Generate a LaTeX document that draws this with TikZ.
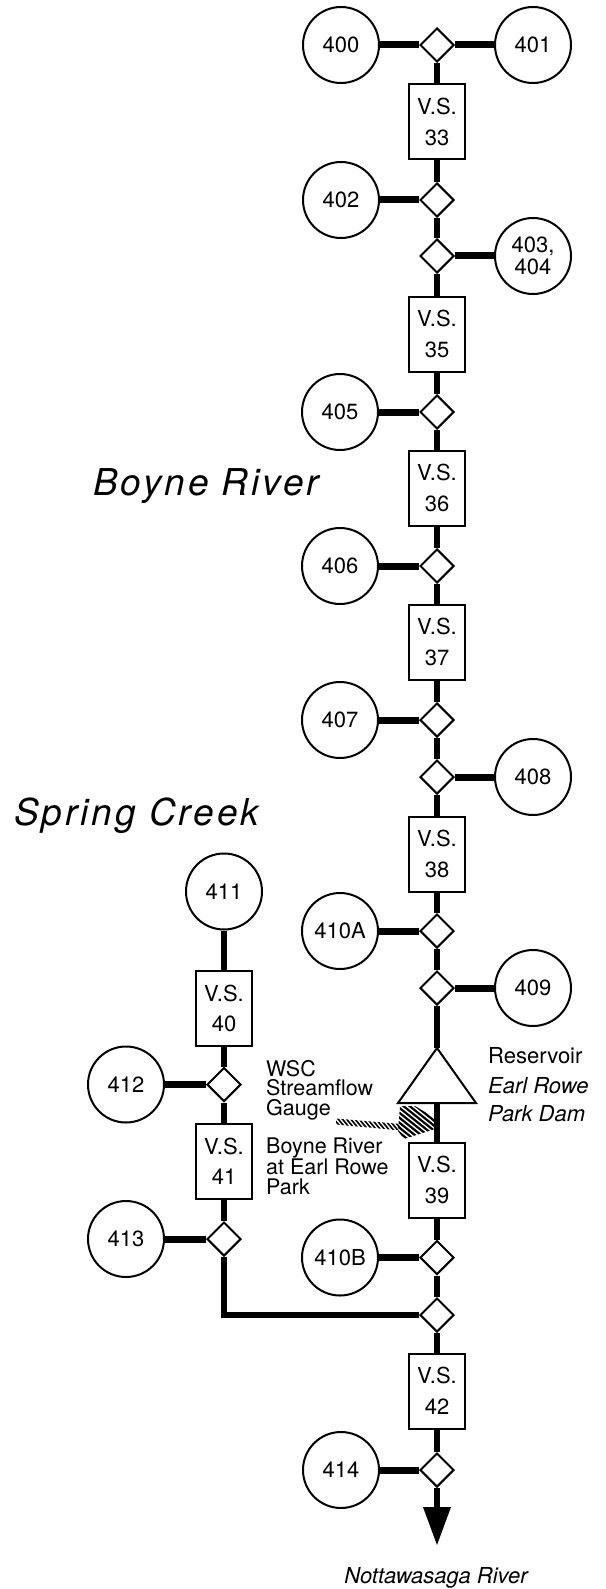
\documentclass[tikz,border=0pt]{standalone}
\usepackage{fontspec}
\setmainfont{TeX Gyre Heros}
\newfontfamily\titlefont[LetterSpace=8]{TeX Gyre Heros}
\usetikzlibrary{shapes.geometric}
\begin{document}
\begin{tikzpicture}[x=1pt,y=-1pt,
  every node/.style={font=\fontsize{22}{22}\selectfont},
  junc/.style={diamond, draw, line width=2pt, minimum width=34pt, minimum height=34pt, inner sep=0pt, fill=white},
  site/.style={circle, draw, line width=2pt, minimum size=76pt, inner sep=0pt, align=center, font=\fontsize{22}{22}\selectfont},
  vsbox/.style={rectangle, draw, line width=2pt, minimum width=56pt, minimum height=75pt, inner sep=0pt, align=center, font=\fontsize{22}{30.5}\selectfont},
  trunk/.style={line width=6pt},
  branch/.style={line width=7pt},
  note/.style={anchor=west, align=left, inner sep=0pt, font=\fontsize{21.5}{19.5}\selectfont},
  lab/.style={anchor=base west, inner sep=0pt},
  title/.style={anchor=base west, inner sep=0pt, font=\titlefont\fontsize{37}{37}\itshape\selectfont},
  hatch/.style={line width=2.2pt},
]
\useasboundingbox (0,0) rectangle (605,1589);

% ---- Boyne River main stem ----
\node[junc] (d400) at (437,45) {};
\node[site] (c400) at (341,45) {400};
\node[site] (c401) at (533,45) {401};
\node[vsbox] (v33) at (437,122) {V.S.\\33};
\node[junc] (d402) at (437,200) {};
\node[site] (c402) at (341,200) {402};
\node[junc] (d403) at (437,256) {};
\node[site] (c403) at (533,256) {403,\\404};
\node[vsbox] (v35) at (437,334) {V.S.\\35};
\node[junc] (d405) at (437,412) {};
\node[site] (c405) at (340,412) {405};
\node[vsbox] (v36) at (437,488) {V.S.\\36};
\node[junc] (d406) at (437,566) {};
\node[site] (c406) at (340,566) {406};
\node[vsbox] (v37) at (437,642) {V.S.\\37};
\node[junc] (d407) at (437,720) {};
\node[site] (c407) at (340,720) {407};
\node[junc] (d408) at (437,777) {};
\node[site] (c408) at (533,777) {408};
\node[vsbox] (v38) at (437,854) {V.S.\\38};
\node[junc] (d410a) at (437,931) {};
\node[site] (c410a) at (340,931) {410A};
\node[junc] (d409) at (437,988) {};
\node[site] (c409) at (533,988) {409};
\coordinate (tritop) at (437,1048);
\coordinate (tribot) at (437,1103);
\draw[line width=2pt, line join=miter] (tritop) -- (476,1103) -- (398,1103) -- cycle;
\node[vsbox] (v39) at (437,1180) {V.S.\\39};
\node[junc] (d410b) at (437,1257.5) {};
\node[site] (c410b) at (340,1257.5) {410B};
\node[junc] (dj) at (437,1315) {};
\node[vsbox] (v42) at (437,1391) {V.S.\\42};
\node[junc] (d414) at (437,1470) {};
\node[site] (c414) at (341,1470) {414};
\coordinate (tip) at (437,1545);
\coordinate (headbase) at (437,1507);

% ---- Spring Creek ----
\node[site] (c411) at (224,891.5) {411};
\node[vsbox] (v40) at (224,1008.5) {V.S.\\40};
\node[junc] (d412) at (224,1084.5) {};
\node[site] (c412) at (126,1084.5) {412};
\node[vsbox] (v41) at (224,1161.5) {V.S.\\41};
\node[junc] (d413) at (224,1239) {};
\node[site] (c413) at (126,1239) {413};

% ---- trunk connectors ----
\foreach \a/\b in {d400/v33, v33/d402, d402/d403, d403/v35, v35/d405, d405/v36, v36/d406, d406/v37, v37/d407, d407/d408, d408/v38, v38/d410a, d410a/d409, d410b/dj, v39/d410b, dj/v42, v42/d414, c411/v40, v40/d412, d412/v41, v41/d413}
  \draw[trunk] (\a.south) -- (\b.north);
\draw[trunk] (d409.south) -- (tritop);
\draw[trunk] (tribot) -- (v39.north);
\draw[trunk, line join=miter] (d413.south) |- (dj.west);
\draw[trunk] (d414.south) -- (headbase);
\fill (tip) -- ++(-14,-38) -- ++(28,0) -- cycle;

% ---- branch connectors ----
\foreach \c/\d in {c400/d400, c402/d402, c405/d405, c406/d406, c407/d407, c410a/d410a, c410b/d410b, c414/d414, c412/d412, c413/d413}
  \draw[branch] (\c.east) -- (\d.west);
\foreach \d/\c in {d400/c401, d403/c403, d408/c408, d409/c409}
  \draw[branch] (\d.east) -- (\c.west);

% ---- streamflow gauge hatch ----
\begin{scope}
  \clip (400,1106) -- (415,1106) -- (435,1118) -- (435,1129) -- (404,1139) -- (398,1131) -- cycle;
  \foreach \k in {0,...,13} \draw[hatch] ({340+6.2*\k},1095) -- ++(60,48);
\end{scope}
\begin{scope}
  \clip (336,1118.5) -- (401,1124) -- (401,1130.5) -- (336,1124.5) -- cycle;
  \foreach \k in {0,...,21} \draw[line width=1.6pt] ({318+4.2*\k},1110) -- ++(20,24);
\end{scope}

% ---- labels ----
\node[title] (tboyne) at (93,495) {Boyne River};
\node[title] (tspring) at (14,825) {Spring Creek};
\node[note] (twsc) at (266,1090) {WSC\\Streamflow\\Gauge};
\node[note] (tgauge) at (266,1166) {Boyne River\\at Earl Rowe\\Park};
\node[lab] (tres) at (488,1063.3) {Reservoir};
\node[lab, font=\fontsize{22}{22}\itshape\selectfont] (tearl) at (488,1093.3) {Earl Rowe};
\node[lab, font=\fontsize{22}{22}\itshape\selectfont] (tdam) at (488,1121) {Park Dam};
\node[anchor=base, inner sep=0pt, font=\fontsize{22}{22}\itshape\selectfont] (tnott) at (436,1583) {Nottawasaga River};
\end{tikzpicture}
\end{document}
